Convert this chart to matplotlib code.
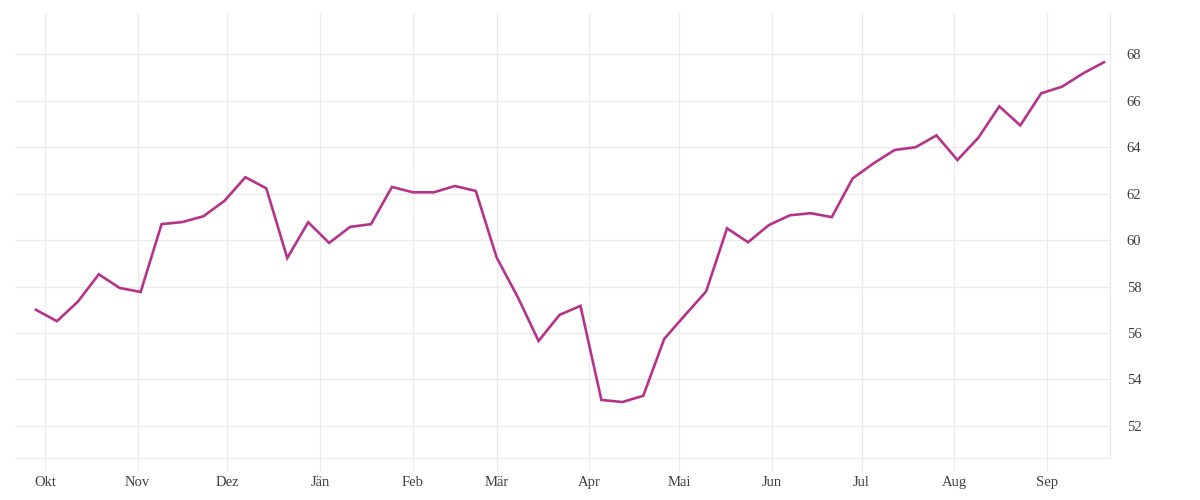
import matplotlib
matplotlib.use("Agg")
import matplotlib.pyplot as plt
import pandas as pd

start_date = "2022-09-28"
values = [57.00, 56.51, 57.35, 58.53, 57.94, 57.77, 60.69, 60.78, 61.03, 61.69,
          62.71, 62.23, 59.23, 60.77, 59.88, 60.57, 60.69, 62.29, 62.06, 62.06,
          62.33, 62.12, 59.25, 57.56, 55.66, 56.78, 57.17, 53.12, 53.03, 53.30,
          55.75, 56.78, 57.79, 60.51, 59.91, 60.65, 61.07, 61.16, 60.99, 62.66,
          63.31, 63.88, 64.00, 64.51, 63.45, 64.41, 65.76, 64.94, 66.32, 66.61,
          67.18, 67.66]
dates = pd.date_range(start_date, periods=len(values), freq="7D")

month_labels = ["Okt", "Nov", "Dez", "Jän", "Feb", "Mär", "Apr", "Mai", "Jun", "Jul", "Aug", "Sep"]
month_ticks = pd.date_range("2022-10-01", periods=12, freq="MS")
y_ticks = [52, 54, 56, 58, 60, 62, 64, 66, 68]

line_color = "#b5338a"
grid_color = "#ebebeb"
text_color = "#404040"

plt.rcParams["font.family"] = ["Liberation Serif", "DejaVu Serif"]

fig = plt.figure(figsize=(12, 5), dpi=100)
ax = fig.add_axes([0.0125, 0.084, 0.9125, 0.89])

ax.plot(dates, values, color=line_color, linewidth=1.9, solid_joinstyle="miter", zorder=3)

ax.set_xlim(pd.Timestamp("2022-09-21"), pd.Timestamp("2023-09-22"))
ax.set_ylim(50.62, 69.78)

ax.set_xticks(month_ticks)
ax.set_xticklabels(month_labels)
ax.set_yticks(y_ticks)
ax.set_yticklabels([str(v) for v in y_ticks])

ax.yaxis.tick_right()
ax.grid(True, color=grid_color, linewidth=1.0, zorder=0)

for s in ["left", "top"]:
    ax.spines[s].set_visible(False)
for s in ["right", "bottom"]:
    ax.spines[s].set_color(grid_color)
    ax.spines[s].set_linewidth(1.0)

ax.tick_params(axis="x", length=9, width=1.0, color=grid_color, pad=4,
               labelsize=10.5, labelcolor=text_color)
ax.tick_params(axis="y", length=0, pad=12, labelsize=10.5, labelcolor=text_color)

fig.savefig("out.png", dpi=100, facecolor="white")
